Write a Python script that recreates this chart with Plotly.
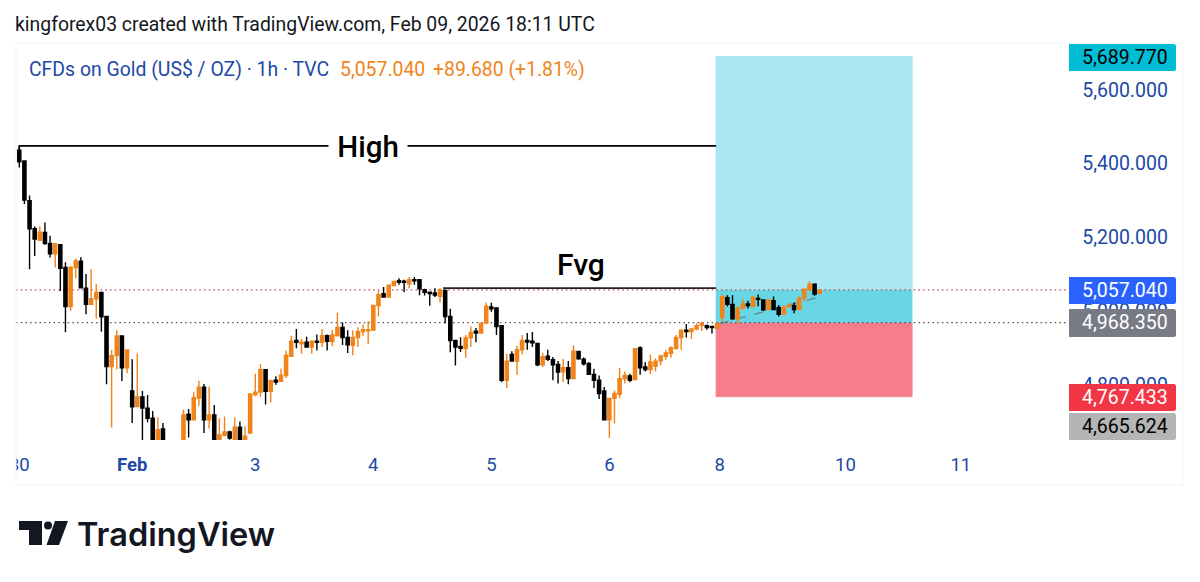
import plotly.graph_objects as go

# hourly gold candles (Jan 30 to Feb 9)
opens = [5436,5407,5299,5223,5192,5213,5183,5155,5180,5118,5012,5118,5135,5062,5018,5033,5050,4985,4849,4879,4932,4846,4783,4741,4767,
         4736,4709,4624,4680,4625,4590,4600,4624,4720,4705,4764,4793,4705,4718,4642,4663,4672,4651,4685,4637,4669,4773,4780,4841,4782,
         4812,4809,4825,4877,4920,4911,4915,4902,4918,4915,4933,4917,4933,4955,4928,4907,4928,4944,4946,4948,5015,5047,5038,5069,5082,
         5081,5074,5085,5085,5058,5051,5049,5040,5056,4985,4920,4904,4898,4927,4945,4940,4967,5011,5008,4960,4812,4882,4864,4895,4920,
         4918,4912,4854,4877,4868,4855,4835,4846,4817,4890,4869,4858,4828,4812,4783,4705,4763,4774,4816,4824,4814,4900,4848,4841,4850,
         4865,4877,4885,4899,4928,4948,4944,4951,4961,4960,4958,4954,4982,5036,5018,4979,5007,5019,5012,5034,5030,5004,5028,5009,4991,
         5012,5014,5004,5035,5059,5073,5048]
closes = [5405,5301,5223,5195,5214,5183,5155,5182,5116,5012,5118,5136,5063,5018,5033,5050,4984,4849,4879,4932,4846,4894,4740,4767,4737,
          4709,4624,4678,4624,4600,4615,4630,4718,4705,4765,4793,4705,4718,4642,4664,4672,4655,4685,4637,4660,4775,4780,4841,4782,4811,
          4807,4826,4880,4918,4915,4915,4902,4918,4915,4933,4918,4935,4955,4928,4908,4928,4944,4949,4949,5015,5044,5038,5070,5080,5078,
          5078,5085,5082,5060,5051,5047,5043,5058,4985,4920,4902,4899,4927,4942,4940,4966,5013,5006,4958,4812,4864,4864,4895,4920,4916,
          4914,4854,4876,4869,4854,4834,4846,4817,4891,4870,4857,4828,4812,4776,4705,4763,4776,4816,4825,4812,4898,4846,4841,4862,4864,
          4878,4886,4900,4928,4948,4944,4951,4960,4966,4955,4955,4966,5039,5018,4979,5007,5019,5015,5037,5032,5003,5030,5004,4991,5010,
          5016,5004,5035,5059,5073,5046,5057]
highs = [5450,5407,5313,5229,5229,5240,5204,5185,5181,5132,5122,5143,5146,5100,5113,5073,5051,4985,4894,4948,4932,4894,4869,4885,4783,
         4772,4729,4712,4696,4640,4630,4650,4732,4734,4780,4811,4802,4795,4745,4709,4714,4675,4712,4700,4687,4775,4830,4856,4841,4814,
         4823,4843,4893,4933,4951,4925,4930,4920,4936,4951,4936,4949,4995,4969,4948,4948,4956,4963,4972,5015,5055,5065,5071,5082,5089,
         5085,5092,5092,5087,5060,5053,5062,5062,5058,5006,4920,4929,4935,4958,4954,4969,5023,5022,5011,4960,4884,4891,4906,4935,4940,
         4943,4913,4886,4895,4875,4864,4870,4864,4907,4891,4874,4861,4843,4825,4794,4764,4784,4846,4836,4830,4898,4904,4861,4882,4872,
         4881,4895,4904,4935,4949,4965,4954,4967,4971,4963,4959,4969,5046,5043,5043,5013,5032,5028,5041,5045,5032,5032,5039,5016,5016,
         5021,5023,5039,5061,5081,5075,5057]
lows = [5389,5290,5113,5149,5192,5180,5145,5118,5054,4942,5000,5089,5062,4991,5016,4979,4944,4801,4684,4842,4810,4831,4696,4741,4630,
        4698,4610,4610,4600,4585,4580,4590,4610,4657,4705,4743,4669,4681,4620,4625,4660,4651,4640,4625,4625,4669,4769,4767,4746,4752,
        4800,4809,4818,4875,4899,4884,4902,4884,4893,4902,4893,4904,4933,4908,4886,4880,4902,4933,4910,4948,4985,5036,5036,5067,5071,
        5051,5061,5071,5043,5042,5014,5038,5023,4967,4888,4852,4889,4873,4902,4915,4939,4966,4998,4935,4807,4791,4864,4827,4882,4895,
        4902,4850,4848,4864,4812,4803,4807,4801,4816,4868,4852,4827,4791,4761,4704,4656,4695,4763,4803,4807,4812,4827,4836,4829,4836,
        4852,4868,4873,4895,4895,4928,4924,4948,4946,4949,4939,4951,4971,5012,4976,4967,5004,5007,5010,5013,5000,5004,5003,4985,4989,
        5009,4994,5003,5025,5055,5041,5046]

day_ticks = [0, 22, 46, 69, 92, 115, 136.5, 161, 183.5]
day_labels = ["30", "<b>Feb</b>", "3", "4", "5", "6", "8", "10", "11"]
price_ticks = [4800, 5000, 5200, 5400, 5600]

target_price = 5689.770
last_price = 5057.040
entry_price = 4968.350
stop_price = 4767.433
low_price = 4665.624
high_level = 5448
fvg_level = 5062

W, H = 1200, 582
L, R, T, B = 16, 1183, 43, 440
BLUE = "#2049a6"
ORANGE = "#f0841a"
x_min = -0.64
x_max = 226.8
box_left = 135.8
box_right = 174.0


def px(v):
    return (v - L) / (R - L)


def py(v):
    return (B - v) / (B - T)


fig = go.Figure()
fig.add_trace(go.Candlestick(
    x=list(range(len(opens))), open=opens, high=highs, low=lows, close=closes,
    increasing=dict(line=dict(color=ORANGE, width=1.4), fillcolor=ORANGE),
    decreasing=dict(line=dict(color="#000000", width=1.4), fillcolor="#000000"),
    whiskerwidth=0, hoverinfo="skip", showlegend=False,
))

# long position box
fig.add_shape(type="rect", x0=box_left, x1=box_right, y0=entry_price, y1=target_price, layer="below",
              fillcolor="#aae8f1", line=dict(width=1, color="#a0e4ee"))
fig.add_shape(type="rect", x0=box_left, x1=box_right, y0=stop_price, y1=entry_price, layer="below",
              fillcolor="#f87d8a", line=dict(width=1, color="#f28a94"))
fig.add_shape(type="rect", x0=box_left, x1=box_right, y0=entry_price, y1=last_price, layer="below",
              fillcolor="#69d6e6", line=dict(width=0))
fig.add_shape(type="line", x0=136.5, x1=156.5, y0=4966, y1=5040, layer="below",
              line=dict(color="#5f929c", width=1.5, dash="dash"))

# price lines
fig.add_shape(type="line", x0=x_min, x1=204.4, y0=last_price, y1=last_price, layer="below",
              line=dict(color="#c9404f", width=1.3, dash="1.5px,3.2px"))
fig.add_shape(type="line", x0=x_min, x1=204.4, y0=entry_price, y1=entry_price, layer="below",
              line=dict(color="#4a4c56", width=1.3, dash="1.5px,3.2px"))

# drawn levels
fig.add_shape(type="line", x0=0, x1=135.8, y0=high_level, y1=high_level, layer="below",
              line=dict(color="#000000", width=1.6))
fig.add_shape(type="line", x0=0, x1=0, y0=5428, y1=high_level, layer="below",
              line=dict(color="#000000", width=1.6))
fig.add_shape(type="line", x0=82.6, x1=135.8, y0=fvg_level, y1=fvg_level, layer="below",
              line=dict(color="#222222", width=1.6))

# chart frame, drawn in page pixels
fig.add_shape(type="rect", xref="paper", yref="paper", x0=px(0), x1=px(L), y0=py(T), y1=py(486),
              fillcolor="white", line=dict(width=0), layer="above")
fig.add_shape(type="rect", xref="paper", yref="paper", x0=px(L), x1=px(R), y0=py(T), y1=py(485),
              fillcolor="rgba(0,0,0,0)", line=dict(color="#f2f4f8", width=1), layer="above")


def round_box(x0, y0, x1, y1, color, r=2.5):
    path = (f"M {px(x0)} {py(y0)} L {px(x1 - r)} {py(y0)} Q {px(x1)} {py(y0)} {px(x1)} {py(y0 + r)} "
            f"L {px(x1)} {py(y1 - r)} Q {px(x1)} {py(y1)} {px(x1 - r)} {py(y1)} L {px(x0)} {py(y1)} Z")
    fig.add_shape(type="path", path=path, xref="paper", yref="paper", fillcolor=color, line=dict(width=0), layer="above")


price_boxes = [
    (target_price, 44, 71, "#00bcd4", "#000000"),
    (last_price, 277, 304, "#2962ff", "#ffffff"),
    (entry_price, 309, 337, "#787b86", "#ffffff"),
    (stop_price, 384, 411, "#f23645", "#ffffff"),
    (low_price, 413, 440, "#b5b5b5", "#000000"),
]
for value, top, bottom, color, text_color in price_boxes:
    round_box(1069, top, 1176, bottom, color)
    fig.add_annotation(xref="paper", yref="paper", x=px(1170), y=py((top + bottom) / 2 - 0.5), xanchor="right", yanchor="middle",
                       text=f"{value:,.3f}", showarrow=False, font=dict(family="Roboto", size=19.5, color=text_color))


def label(x, y, text, size, color, anchor="left", weight=None, bg=None, family="Roboto"):
    fig.add_annotation(xref="paper", yref="paper", x=px(x), y=py(y), xanchor=anchor, yanchor="middle", text=text,
                       showarrow=False, bgcolor=bg, font=dict(family=family, size=size, color=color, weight=weight))


label(13, 25, "kingforex03 created with TradingView.com, Feb 09, 2026 18:11 UTC", 19.4, "#131722")
label(27, 69, "CFDs on Gold (US$ / OZ) · 1h · TVC", 19.4, BLUE)
label(338, 69, "5,057.040", 19.4, ORANGE)
label(431, 69, "+89.680 (+1.81%)", 19.4, ORANGE)
label(368, 147, "&nbsp;High&nbsp;", 29.5, "#000000", anchor="center", weight=500, bg="#ffffff")
label(581, 264, "Fvg", 30, "#000000", anchor="center", weight=500)

# logo
label(75, 534, "TradingView", 32.5, "#131722", weight=600, family="Inter")
fig.add_shape(type="path", xref="paper", yref="paper", fillcolor="#131722", line=dict(width=0), layer="above",
              path=f"M {px(19)} {py(521)} L {px(42)} {py(521)} L {px(42)} {py(545)} L {px(29)} {py(545)} L {px(29)} {py(530)} L {px(19)} {py(530)} Z")
fig.add_shape(type="path", xref="paper", yref="paper", fillcolor="#131722", line=dict(width=0), layer="above",
              path=f"M {px(55)} {py(521)} L {px(68)} {py(521)} L {px(59)} {py(545)} L {px(46.5)} {py(545)} Z")
fig.add_shape(type="circle", xref="paper", yref="paper", fillcolor="#131722", line=dict(width=0), layer="above",
              x0=px(44), x1=px(52), y0=py(529.5), y1=py(521.5))

fig.update_layout(
    width=W, height=H, margin=dict(l=L, r=W - R, t=T, b=H - B, autoexpand=False),
    paper_bgcolor="white", plot_bgcolor="white", showlegend=False, boxgap=0.12,
    font=dict(family="Roboto"),
    xaxis=dict(range=[x_min, x_max], tickmode="array", tickvals=day_ticks, ticktext=day_labels,
               showgrid=False, zeroline=False, showline=False, rangeslider=dict(visible=False),
               ticks="outside", ticklen=8, tickcolor="rgba(0,0,0,0)", tickfont=dict(size=18.5, color=BLUE)),
    yaxis=dict(range=[4650, 5727], side="right", tickmode="array", tickvals=price_ticks,
               ticktext=[f"{v:,.3f}" for v in price_ticks], ticklabelposition="inside",
               showgrid=False, zeroline=False, showline=False,
               ticks="inside", ticklen=16, tickcolor="rgba(0,0,0,0)", tickfont=dict(size=19.5, color=BLUE)),
)

fig.write_html("out.html", config=dict(displayModeBar=False), post_script="document.body.style.margin='0';")
